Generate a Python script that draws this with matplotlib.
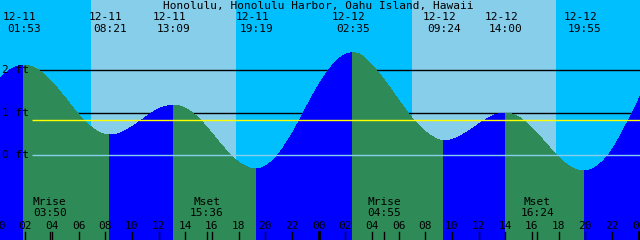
import matplotlib
matplotlib.use("Agg")
import matplotlib.pyplot as plt
import numpy as np
from matplotlib.path import Path
from matplotlib.patches import PathPatch

title = "Honolulu, Honolulu Harbor, Oahu Island, Hawaii"

# hours since 12-11 00:00 and water level [ft]
sample_hours = [0.11, 1, 3, 4, 5, 6, 7, 8, 9, 10, 11, 12, 14, 15, 16, 17, 18, 19,
                20, 21, 22, 23, 24, 25, 26, 27, 28, 29, 30, 31, 32, 33, 34, 35, 36, 37,
                39, 40, 41, 42, 43, 45, 46, 47, 48, 48.11]
sample_ft = [1.82, 2.04, 2.00, 1.72, 1.35, 0.96, 0.65, 0.49, 0.51, 0.67, 0.89, 1.09,
             1.11, 0.87, 0.52, 0.14, -0.16, -0.31, -0.26, 0.03, 0.50, 1.08, 1.65,
             2.10, 2.37, 2.39, 2.12, 1.74, 1.30, 0.88, 0.56, 0.37, 0.37, 0.52, 0.73, 0.92,
             0.90, 0.64, 0.30, -0.05, -0.29, -0.23, 0.12, 0.68, 1.30, 1.38]

# high / low tides
extreme_hours = [1.883, 8.35, 13.15, 19.317, 26.583, 33.4, 38.0, 43.917]
extreme_ft = [2.12, 0.48, 1.18, -0.32, 2.41, 0.34, 0.99, -0.37]
extreme_dates = ["12-11", "12-11", "12-11", "12-11", "12-12", "12-12", "12-12", "12-12"]
extreme_times = ["01:53", "08:21", "13:09", "19:19", "02:35", "09:24", "14:00", "19:55"]

# sun up intervals
sunrise_hours = [6.95, 31.0]
sunset_hours = [17.82, 41.83]

# moon events
moon_hours = [3.833, 15.6, 28.917, 40.4]
moon_names = ["Mrise", "Mset", "Mrise", "Mset"]
moon_times = ["03:50", "15:36", "04:55", "16:24"]

level_ft = [2, 1, 0]
mean_ft = 0.82

X0, X1 = 0.11, 48.11
Y0, Y1 = -1.993, 3.654
W, H = 640, 240

plt.rcParams["font.family"] = ["DejaVu Sans Mono"]
plt.rcParams["font.size"] = 8

fig = plt.figure(figsize=(6.4, 2.4), dpi=100)
ax = fig.add_axes([0, 0, 1, 1])
ax.set_xlim(X0, X1)
ax.set_ylim(Y0, Y1)
ax.axis("off")

night = "#00BFFF"
day = "#87CEEB"
ax.axvspan(X0, X1, color=night, lw=0, zorder=0)
for a, b in zip(sunrise_hours, sunset_hours):
    ax.axvspan(a, b, color=day, lw=0, zorder=0)

line_start = 2.51
for lvl in level_ft[:2]:
    ax.hlines(lvl, line_start, X1, color="black", lw=1.0, zorder=1)

t = np.array(sample_hours + extreme_hours, dtype=float)
v = np.array(sample_ft + extreme_ft, dtype=float)
order = np.argsort(t)
t, v = t[order], v[order]
is_ext = np.isin(t, extreme_hours)

# slopes for a smooth (Bezier) outline, flat at highs and lows
slope = np.gradient(v, t)
slope[is_ext] = 0.0

bounds = [X0] + extreme_hours + [X1]
for a, b in zip(bounds[:-1], bounds[1:]):
    idx = np.where((t >= a - 1e-9) & (t <= b + 1e-9))[0]
    verts = [(t[idx[0]], Y0), (t[idx[0]], v[idx[0]])]
    codes = [Path.MOVETO, Path.LINETO]
    for i, j in zip(idx[:-1], idx[1:]):
        dt = t[j] - t[i]
        verts += [(t[i] + dt / 3, v[i] + slope[i] * dt / 3),
                  (t[j] - dt / 3, v[j] - slope[j] * dt / 3),
                  (t[j], v[j])]
        codes += [Path.CURVE4] * 3
    verts += [(t[idx[-1]], Y0), (t[idx[0]], Y0)]
    codes += [Path.LINETO, Path.CLOSEPOLY]
    rising = v[idx[-1]] > v[idx[0]]
    ax.add_patch(PathPatch(Path(verts, codes), facecolor="#0000FF" if rising else "#2E8B57",
                           lw=0, antialiased=False, zorder=2))

ax.hlines(mean_ft, line_start, X1, color="#FFFF00", lw=1.0, zorder=3)
ax.hlines(level_ft[2], line_start, X1, color="#87CEEB", lw=1.0, zorder=3)

ytr = ax.get_yaxis_transform()
for lvl in level_ft:
    ax.text(2 / W, lvl, f"{lvl} ft", transform=ytr, ha="left", va="center", zorder=5)

xtr = ax.get_xaxis_transform()
ax.text(318 / W, 1 - 6 / H, title, transform=ax.transAxes, ha="center", va="center", zorder=5)
for h, d, s in zip(extreme_hours, extreme_dates, extreme_times):
    ax.text(h - 0.3, 1 - 17.5 / H, d, transform=xtr, ha="center", va="center", zorder=5)
    ax.text(h, 1 - 29.5 / H, s, transform=xtr, ha="center", va="center", zorder=5)

# hour ticks along the bottom
for hr in range(0, 49, 2):
    ax.axvline(hr, ymin=0, ymax=8 / H, color="black", lw=2.0 if hr % 24 == 0 else 1.0, zorder=4)
    ax.text(hr, 14 / H, f"{hr % 24:02d}", transform=xtr, ha="center", va="center", zorder=5)

for h, name, s in zip(moon_hours, moon_names, moon_times):
    ax.axvline(h, ymin=0, ymax=8 / H, color="black", lw=1.0, zorder=4)
    ax.text(h, 1 - 202 / H, name, transform=xtr, ha="center", va="center", zorder=5)
    ax.text(h, 1 - 213 / H, s, transform=xtr, ha="center", va="center", zorder=5)

fig.savefig("out.png", dpi=100)
